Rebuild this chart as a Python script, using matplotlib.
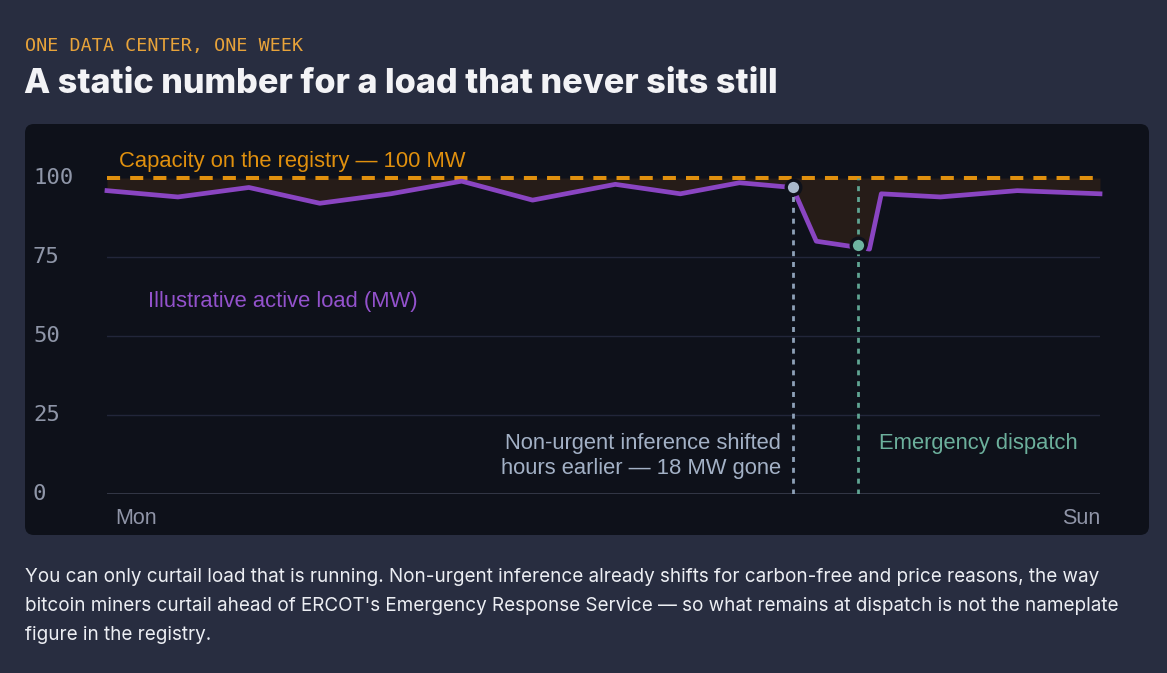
import matplotlib
matplotlib.use("Agg")
from matplotlib import pyplot as plt
from matplotlib.patches import FancyBboxPatch

# one week, hours since Monday 00:00
hours = [0, 12, 24, 36, 48, 60, 72, 86, 97, 107, 116, 120, 129, 131, 141, 154, 168]
load_mw = [96, 94, 97, 92, 95, 99, 93, 98, 95, 98.5, 97, 80, 77.5, 95, 94, 96, 95]

capacity_mw = 100
shift_hour, shift_mw = 116, 97
dispatch_hour, dispatch_mw = 127, 78.7

y_ticks = [0, 25, 50, 75, 100]
day_labels = ["Mon", "Sun"]

kicker = "ONE DATA CENTER, ONE WEEK"
title = "A static number for a load that never sits still"
capacity_label = "Capacity on the registry \u2014 100 MW"
load_label = "Illustrative active load (MW)"
shift_label = "Non-urgent inference shifted\nhours earlier \u2014 18 MW gone"
dispatch_label = "Emergency dispatch"
caption = ("You can only curtail load that is running. Non-urgent inference already shifts for carbon-free and price reasons, the way\n"
           "bitcoin miners curtail ahead of ERCOT's Emergency Response Service \u2014 so what remains at dispatch is not the nameplate\n"
           "figure in the registry.")

BG = "#282d40"
PANEL = "#0e111a"
ORANGE = "#e0900e"
PURPLE = "#8a45c2"
GREY = "#a3b1c6"
TEAL = "#6cb09c"
TICK = "#8f96a8"

W, H = 1167, 673
fig = plt.figure(figsize=(W / 100, H / 100), dpi=100, facecolor=BG)

# background axes in pixel coordinates (origin top-left)
bg = fig.add_axes([0, 0, 1, 1])
bg.set_xlim(0, W)
bg.set_ylim(H, 0)
bg.axis("off")
bg.set_zorder(0)

panel = FancyBboxPatch((25, 124), 1124, 411, boxstyle="round,pad=0,rounding_size=9",
                       facecolor=PANEL, edgecolor="none")
bg.add_patch(panel)

bg.text(25, 46, kicker, family="DejaVu Sans Mono", fontsize=13.2, color="#e8a33a", va="center")
bg.text(24, 93, title, family="Inter", fontweight=800, fontsize=24.6, color="#f3f3f6", va="baseline")

# plot axes
x0, x1, ytop, ybot = 107, 1100, 178, 494
ax = fig.add_axes([x0 / W, 1 - ybot / H, (x1 - x0) / W, (ybot - ytop) / H])
ax.set_zorder(1)
ax.patch.set_visible(False)
ax.set_xlim(0, 168)
ax.set_ylim(0, 100)
ax.axis("off")

for t in y_ticks[1:-1]:
    ax.axhline(t, color="#22263a", lw=1)
ax.axhline(0, color="#3a3e4e", lw=1.2)

ax.fill_between(hours, load_mw, capacity_mw, color="#261c18", lw=0)
ax.axhline(capacity_mw, color=ORANGE, lw=2.9, dashes=(3.25, 2.5), clip_on=False)
ax.plot(hours, load_mw, color=PURPLE, lw=3.4, solid_joinstyle="round", clip_on=False)

ax.plot([shift_hour, shift_hour], [0, shift_mw], color="#8ea1b8", lw=2, dashes=(1.8, 2.1))
ax.plot([dispatch_hour, dispatch_hour], [0, capacity_mw], color="#5fa593", lw=2, dashes=(1.8, 2.1))
ax.plot(shift_hour, shift_mw, "o", ms=10.5, mfc="#a9b9cc", mec=PANEL, mew=2.4, clip_on=False)
ax.plot(dispatch_hour, dispatch_mw, "o", ms=10.5, mfc="#6db4a0", mec=PANEL, mew=2.4, clip_on=False)

# tick labels
for t in y_ticks:
    py = ybot - (ybot - ytop) * t / 100
    bg.text(33, py, str(t), family="DejaVu Sans Mono", fontsize=16, color=TICK, va="center")
bg.text(115, 518, day_labels[0], family="Liberation Sans", fontsize=15.5, color="#9095a8", va="center")
bg.text(1100, 518, day_labels[1], family="Liberation Sans", fontsize=15.5, color="#9095a8", va="center", ha="right")

# annotations
bg.text(119, 161, capacity_label, family="Liberation Sans", fontsize=15.8, color=ORANGE, va="center")
bg.text(148, 302, load_label, family="Liberation Sans", fontsize=15.8, color="#9352cc", va="center")
bg.text(781, 456, shift_label, family="Liberation Sans", fontsize=15.8, color=GREY, va="center",
        ha="right", multialignment="right", linespacing=1.25)
bg.text(879, 443, dispatch_label, family="Liberation Sans", fontsize=15.8, color=TEAL, va="center")

bg.text(25, 606, caption, family="Inter", fontsize=13.6, color="#eceef3", va="center", linespacing=1.76)

fig.savefig("out.png", dpi=100, facecolor=BG)
